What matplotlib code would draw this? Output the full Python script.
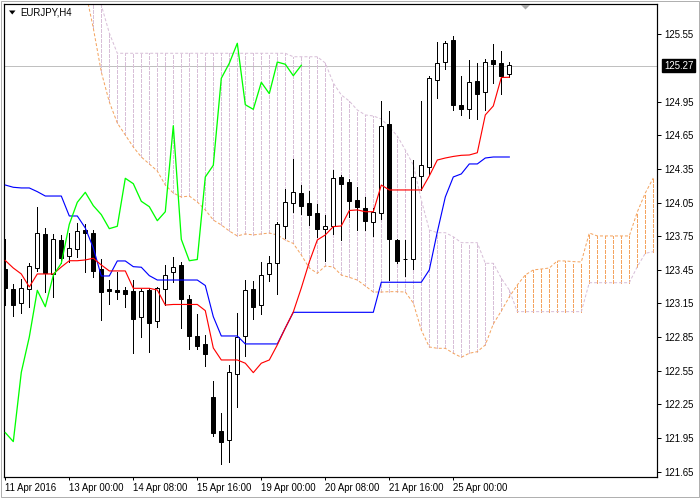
import matplotlib
matplotlib.use("Agg")
import matplotlib.pyplot as plt
from matplotlib.patches import Rectangle, Polygon

# EURJPY H4 candles, bar 0 = 11 Apr 2016 16:00
opens = [123.457, 123.279, 123.152, 123.276, 123.469, 123.769, 123.410, 123.713, 123.571, 123.633,
         123.805, 123.776, 123.457, 123.279, 123.270, 123.267, 123.258, 123.027, 123.270, 122.991,
         123.276, 123.431, 123.490, 123.190, 122.860, 122.786, 122.316, 122.013, 121.935, 122.524,
         122.857, 123.276, 123.134, 123.410, 123.514, 123.844, 124.043, 124.132, 124.046, 123.957,
         123.811, 123.841, 124.278, 124.233, 124.073, 124.004, 123.879, 123.959, 124.748, 123.716,
         123.547, 123.549, 124.287, 124.370, 125.140, 125.301, 125.499, 124.917, 124.887, 125.134,
         125.033, 125.318, 125.297, 125.196]
highs = [123.725, 123.324, 123.368, 123.508, 124.010, 123.820, 123.767, 123.758, 123.781, 123.865,
         123.859, 123.805, 123.544, 123.359, 123.433, 123.300, 123.359, 123.282, 123.285, 123.294,
         123.490, 123.562, 123.520, 123.226, 123.056, 122.869, 122.459, 122.174, 122.599, 123.062,
         123.359, 123.348, 123.517, 123.573, 123.874, 124.173, 124.438, 124.204, 124.156, 124.034,
         123.939, 124.340, 124.296, 124.260, 124.186, 124.097, 123.999, 124.958, 124.869, 123.725,
         123.716, 124.429, 124.958, 125.181, 125.484, 125.490, 125.538, 125.178, 125.321, 125.292,
         125.327, 125.464, 125.401, 125.303]
lows = [123.136, 123.041, 123.068, 123.116, 123.442, 123.252, 123.205, 123.511, 123.517, 123.562,
        123.433, 123.383, 123.003, 123.145, 123.193, 123.121, 122.711, 122.854, 122.720, 122.943,
        123.134, 123.344, 122.931, 122.741, 122.747, 122.595, 121.968, 121.716, 121.734, 122.224,
        122.684, 123.012, 123.059, 123.350, 123.237, 123.737, 123.963, 123.951, 123.852, 123.745,
        123.529, 123.769, 123.716, 123.918, 123.805, 123.805, 123.752, 123.901, 123.359, 123.511,
        123.395, 123.455, 124.162, 124.305, 124.985, 125.238, 124.875, 124.831, 124.807, 124.798,
        124.875, 125.119, 125.018, 125.172]
closes = [123.285, 123.136, 123.288, 123.481, 123.778, 123.424, 123.722, 123.558, 123.642, 123.796,
          123.781, 123.442, 123.255, 123.264, 123.255, 123.237, 123.014, 123.258, 122.979, 123.285,
          123.407, 123.478, 123.190, 122.863, 122.771, 122.702, 121.998, 121.918, 122.536, 122.851,
          123.267, 123.121, 123.401, 123.508, 123.856, 124.052, 124.141, 124.022, 123.942, 123.817,
          123.838, 124.266, 124.218, 124.061, 124.013, 123.888, 123.968, 124.735, 123.722, 123.531,
          123.542, 124.278, 124.382, 125.158, 125.292, 125.470, 124.922, 124.881, 125.122, 125.021,
          125.303, 125.283, 125.181, 125.274]

# Ichimoku lines
tenkan = [123.533, 123.466, 123.413, 123.297, 123.413, 123.413, 123.413, 123.475, 123.531, 123.531,
          123.538, 123.553, 123.493, 123.440, 123.440, 123.440, 123.285, 123.285, 123.285, 123.270,
          123.136, 123.141, 123.141, 123.141, 123.141, 123.086, 122.753, 122.646, 122.646, 122.646,
          122.617, 122.533, 122.617, 122.646, 122.780, 122.931, 123.074, 123.288, 123.520, 123.716,
          123.761, 123.835, 123.841, 123.979, 123.984, 123.968, 123.968, 124.206, 124.162, 124.162,
          124.162, 124.162, 124.162, 124.287, 124.429, 124.447, 124.461, 124.471, 124.474, 124.494,
          124.831, 124.911, 125.165, 125.167]
kijun = [124.206, 124.186, 124.180, 124.180, 124.147, 124.108, 124.108, 124.108, 123.930, 123.930,
         123.823, 123.645, 123.395, 123.395, 123.529, 123.529, 123.478, 123.473, 123.398, 123.359,
         123.359, 123.359, 123.359, 123.359, 123.359, 123.310, 123.032, 122.860, 122.860, 122.860,
         122.789, 122.789, 122.789, 122.789, 122.789, 122.931, 123.071, 123.071, 123.071, 123.071,
         123.071, 123.071, 123.071, 123.071, 123.071, 123.071, 123.071, 123.339, 123.339, 123.339,
         123.339, 123.339, 123.339, 123.449, 123.787, 124.099, 124.278, 124.305, 124.394, 124.394,
         124.447, 124.456, 124.456, 124.456]
chikou = [121.998, 121.918, 122.536, 122.851, 123.267, 123.121, 123.401, 123.508, 123.856, 124.052,
          124.141, 124.022, 123.942, 123.817, 123.838, 124.266, 124.218, 124.061, 124.013, 123.888,
          123.968, 124.735, 123.722, 123.531, 123.542, 124.278, 124.382, 125.158, 125.292, 125.470,
          124.922, 124.881, 125.122, 125.021, 125.303, 125.283, 125.181, 125.274]

span_start = 10  # first bar where the cloud lines are drawn
span_a = [125.945, 125.606, 125.214, 124.947, 124.759, 124.652, 124.545, 124.456, 124.394, 124.331,
          124.206, 124.135, 124.099, 124.108, 124.055, 123.984, 123.894, 123.850, 123.796, 123.752,
          123.770, 123.761, 123.770, 123.778, 123.761, 123.716, 123.685, 123.582, 123.466, 123.419,
          123.484, 123.475, 123.404, 123.383, 123.359, 123.306, 123.252, 123.252, 123.255, 123.255,
          123.252, 123.154, 122.913, 122.762, 122.750, 122.750, 122.706, 122.670, 122.706, 122.720,
          122.780, 122.967, 123.083, 123.208, 123.315, 123.404, 123.449, 123.457, 123.466, 123.529,
          123.529, 123.523, 123.520, 123.778, 123.752, 123.752, 123.752, 123.752, 123.752, 123.966,
          124.135, 124.269]
span_b = [126.391, 126.079, 125.811, 125.562, 125.381, 125.381, 125.381, 125.381, 125.381, 125.381,
          125.381, 125.381, 125.381, 125.381, 125.381, 125.381, 125.381, 125.381, 125.381, 125.381,
          125.381, 125.381, 125.381, 125.381, 125.381, 125.381, 125.350, 125.350, 125.350, 125.350,
          125.294, 125.116, 125.009, 124.955, 124.875, 124.831, 124.822, 124.795, 124.724, 124.643,
          124.519, 124.385, 124.073, 123.805, 123.781, 123.781, 123.745, 123.692, 123.692, 123.692,
          123.508, 123.508, 123.375, 123.270, 123.077, 123.077, 123.077, 123.077, 123.077, 123.077,
          123.077, 123.077, 123.077, 123.335, 123.335, 123.335, 123.335, 123.335, 123.335, 123.478,
          123.597, 123.612]

last_price = 125.27
date_ticks = [0, 8, 16, 24, 32, 40, 48, 56]
date_labels = ["11 Apr 2016", "13 Apr 00:00", "14 Apr 08:00", "15 Apr 16:00",
               "19 Apr 00:00", "20 Apr 08:00", "21 Apr 16:00", "25 Apr 00:00"]
price_ticks = [125.55, 124.95, 124.65, 124.35, 124.05, 123.75, 123.45,
               123.15, 122.85, 122.55, 122.25, 121.95, 121.65]

plt.rcParams['font.family'] = ['Liberation Sans', 'DejaVu Sans']
px = 0.72  # one pixel in points at 100 dpi
W, H = 700, 500

fig = plt.figure(figsize=(7, 5), dpi=100)
ax = fig.add_axes([4 / W, 1 - 476.7 / H, 653 / W, 472.4 / H])
ax.set_xlim(-0.1625, 81.4625)
ax.set_ylim(121.605, 125.8177)

# current price line
ax.axhline(last_price, color='#c0c0c0', lw=px, zorder=1)

# cloud: dashed verticals between span A and span B, then the two span lines
dash = (0, (3, 2))
span_x = list(range(span_start, span_start + len(span_a)))
for x, a, b in zip(span_x, span_a, span_b):
    col = '#d8bfd8' if b >= a else '#f4a460'
    ax.vlines(x, min(a, b), max(a, b), colors=col, lw=px, linestyles=dash,
              antialiased=False, zorder=1.5)
ax.plot(span_x, span_b, color='#d8bfd8', lw=px, ls=dash, zorder=1.6)
ax.plot(span_x, span_a, color='#f4a460', lw=px, ls=dash, zorder=1.7)

# candles
bw = 0.52
for i, (o, h, l, c) in enumerate(zip(opens, highs, lows, closes)):
    ax.vlines(i, l, h, colors='black', lw=px, antialiased=False, zorder=2)
    up = c >= o
    ax.add_patch(Rectangle((i - bw / 2, min(o, c)), bw, max(abs(c - o), 0.004),
                           facecolor='white' if up else 'black', edgecolor='black',
                           lw=px, zorder=2.5))

# tenkan, kijun, chikou
bars = list(range(len(closes)))
ax.plot(bars, kijun, color='#0000ff', lw=px * 1.15, zorder=3)
ax.plot(bars, tenkan, color='#ff0000', lw=px * 1.15, zorder=3.1)
ax.plot(list(range(len(chikou))), chikou, color='#00ff00', lw=px * 1.3, zorder=3.2)

# frame and axes
for s in ax.spines.values():
    s.set_color('black')
    s.set_linewidth(px * 1.2)
ax.yaxis.tick_right()
ax.set_yticks(price_ticks)
ax.set_yticklabels([f"{p:.2f}" for p in price_ticks])
ax.tick_params(axis='y', direction='out', length=3, width=px, pad=2, labelsize=6.9, colors='black')
ax.set_xticks(date_ticks)
ax.set_xticklabels(date_labels)
ax.tick_params(axis='x', direction='out', length=2.5, width=px, pad=2, labelsize=6.9, colors='black')
for lbl in ax.get_xticklabels():
    lbl.set_ha('left')

# price label on the axis
ax.text(1.011, last_price, f"{last_price:.2f}", transform=ax.get_yaxis_transform(),
        ha='left', va='center', color='white', fontsize=6.9, clip_on=False,
        bbox=dict(boxstyle='square,pad=0.18', fc='black', ec='black'))

# symbol caption with little menu arrow
fig.text(20.5 / W, 1 - 12.7 / H, "EURJPY,H4", ha='left', va='center', fontsize=6.9)
fig.patches.append(Polygon([(9 / W, 1 - 10.5 / H), (15.5 / W, 1 - 10.5 / H), (12.25 / W, 1 - 14.5 / H)],
                           closed=True, fc='black', ec='none', transform=fig.transFigure))
# chart shift marker
fig.patches.append(Polygon([(521 / W, 1 - 5 / H), (530 / W, 1 - 5 / H), (525.5 / W, 1 - 9.5 / H)],
                           closed=True, fc='#a8a8a8', ec='none', transform=fig.transFigure))
# outer window edge
fig.patches.append(Rectangle((0.5 / W, 1 - 497 / H), 698 / W, 496.5 / H, fill=False,
                             ec='#b0b0b0', lw=px, transform=fig.transFigure))

fig.savefig("out.png", dpi=100)
